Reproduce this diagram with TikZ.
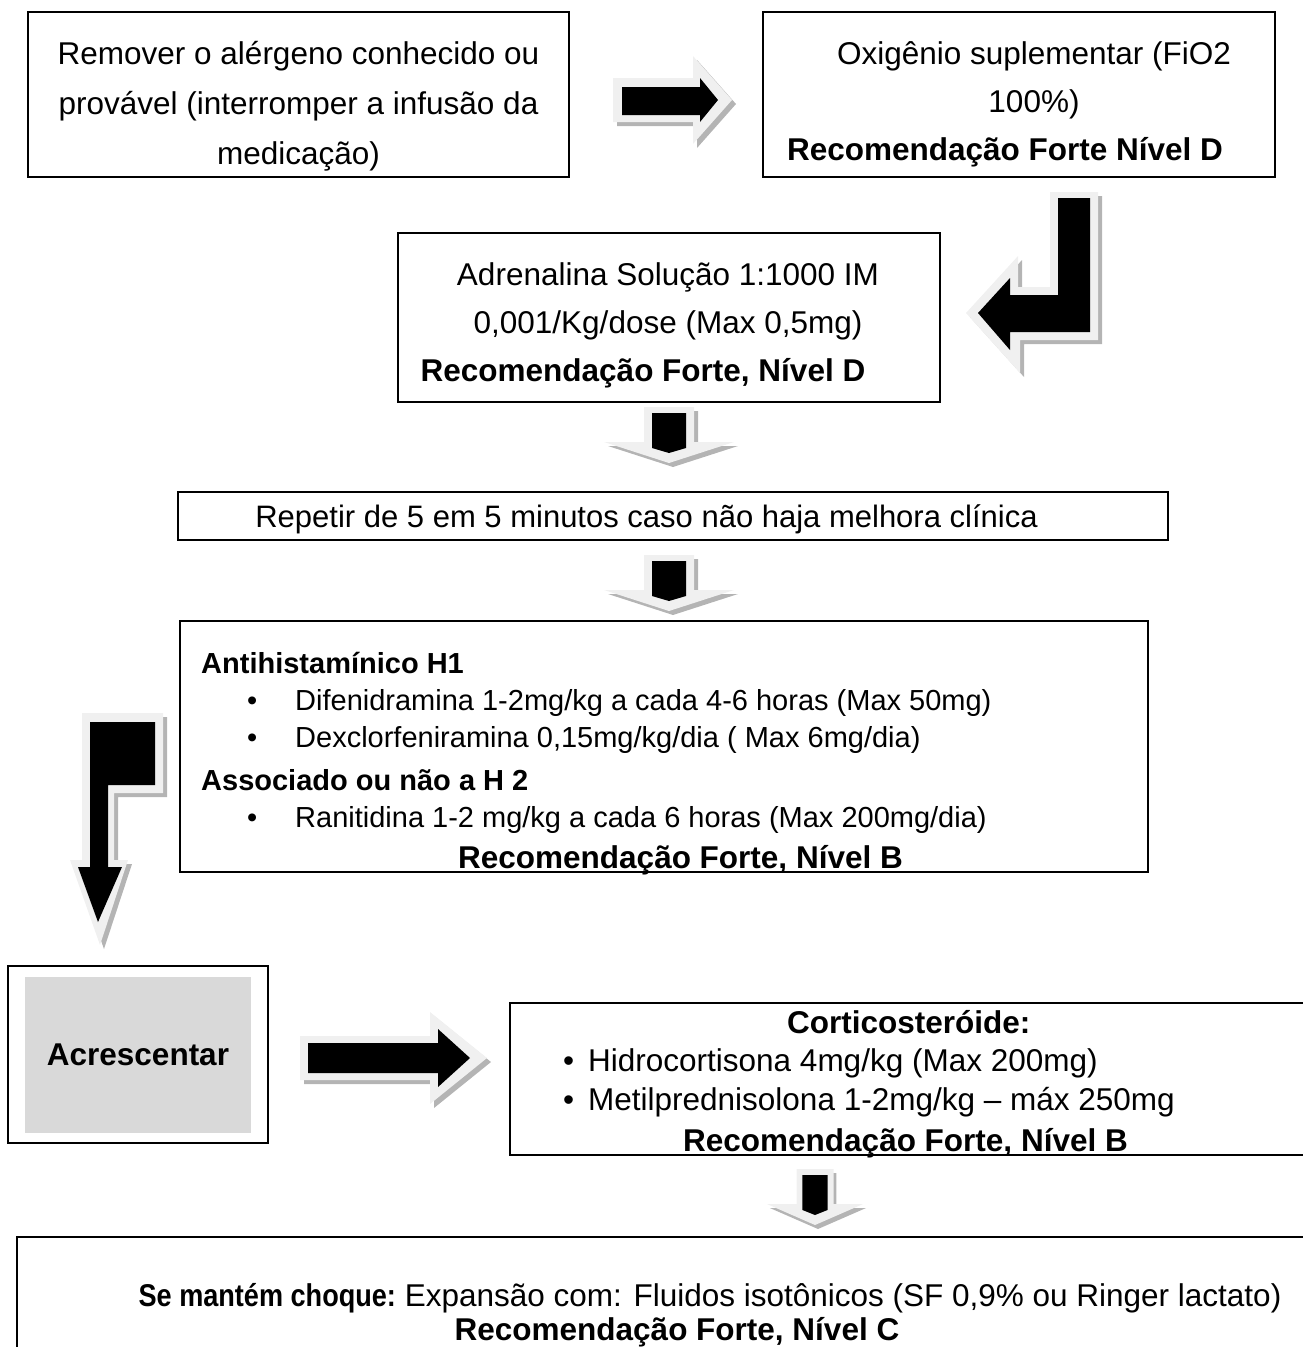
\documentclass[tikz,border=0pt]{standalone}
\usepackage{fontspec}
\setmainfont{Liberation Sans}
\usetikzlibrary{positioning}
\definecolor{rimgray}{HTML}{F0F0F0}
\definecolor{shadowgray}{HTML}{B4B4B4}
\definecolor{fillgray}{HTML}{D9D9D9}
\newcommand\bigtxt{\fontsize{31.5}{48}\selectfont}
\newcommand\midtxt{\fontsize{29}{37}\selectfont}
\newcommand\topstrut{\rule{0pt}{26pt}}
% block arrow: shadow, light rim, black core
\newcommand\blockarrow[2]{%
  \fill[arrowshadow,shift={(4,4)}] #1;
  \fill[arrowrim] #1;
  \fill[arrowbody] #2;}
\tikzset{
  box/.style={draw,line width=2pt,inner sep=0pt},
  txt/.style={inner sep=0pt,anchor=north,align=center,font=\bigtxt},
  arrowrim/.style={fill=rimgray},
  arrowshadow/.style={fill=shadowgray},
  arrowbody/.style={fill=black},
  downblock/.pic={
    \blockarrow{(-25,-56)--(25,-56)--(25,-21)--(65,-21)--(0,0)--(-65,-21)--(-25,-21)--cycle}
               {(-17,-50)--(17,-50)--(17,-15)--(0,-10)--(-17,-15)--cycle}
  }
}

\begin{document}
\begin{tikzpicture}[x=1pt,y=-1pt]
\useasboundingbox (0,0) rectangle (1303,1347);
\clip (0,0) rectangle (1303,1347);

% first row
\node[box,minimum width=541,minimum height=165] (remover) at (298.5,94.5) {};
\node[txt,font=\fontsize{31.5}{50}\selectfont] (removertxt) at (298.5,38) {\topstrut Remover o alérgeno conhecido ou\\provável (interromper a infusão da\\medicação)};
\node[box,minimum width=512,minimum height=165] (oxigenio) at (1019,94.5) {};
\node[txt] (oxigeniotxt) at (1034,38) {\topstrut Oxigênio suplementar (FiO2\\100\%)\\\textbf{Recomendação Forte Nível D}\hspace*{58pt}};

\blockarrow{(613,78)--(693,78)--(693,56)--(732,100)--(693,144)--(693,122)--(613,122)--cycle}
           {(622,87)--(700,87)--(700,78)--(718,100)--(700,122)--(700,115)--(622,115)--cycle}
\blockarrow{(1050,192)--(1098,192)--(1098,340)--(1020,340)--(1020,373)--(966,313)--(1018,256)--(1018,287)--(1050,287)--cycle}
           {(1058,198)--(1090,198)--(1090,332)--(1010,332)--(1010,350)--(978,313)--(1010,278)--(1010,295)--(1058,295)--cycle}

% adrenalina
\node[box,minimum width=542,minimum height=169] (adrenalina) at (669,317.5) {};
\node[txt] (adrenalinatxt) at (668,259) {\topstrut Adrenalina Solução 1:1000 IM\\0,001/Kg/dose (Max 0,5mg)\hspace*{36pt}\\\textbf{Recomendação Forte, Nível D}\hspace*{50pt}};
\pic at (669,463) {downblock};

\node[box,minimum width=990,minimum height=48] (repetir) at (673,516) {};
\node[txt,font=\fontsize{31}{48}\selectfont] (repetirtxt) at (646.5,501) {\topstrut Repetir de 5 em 5 minutos caso não haja melhora clínica};
\pic at (669,611) {downblock};

% antihistaminicos
\node[box,minimum width=968,minimum height=251] (antihist) at (664,746.5) {};
\node[txt,anchor=north west,align=left,font=\midtxt] (antihisttxt) at (201,647) {\topstrut\textbf{Antihistamínico H1}\\
\hspace*{46pt}\makebox[48pt][l]{•}Difenidramina 1-2mg/kg a cada 4-6 horas (Max 50mg)\\
\hspace*{46pt}\makebox[48pt][l]{•}Dexclorfeniramina 0,15mg/kg/dia ( Max 6mg/dia)\\[6pt]
\textbf{Associado ou não a H 2}\\
\hspace*{46pt}\makebox[48pt][l]{•}Ranitidina 1-2 mg/kg a cada 6 horas (Max 200mg/dia)\\[4pt]
\hspace*{257pt}{\bigtxt\bfseries Recomendação Forte, Nível B}};

\blockarrow{(82,713)--(163,713)--(163,793)--(114,793)--(114,860)--(128,860)--(100,945)--(70,860)--(82,860)--cycle}
           {(90,722)--(155,722)--(155,785)--(108,785)--(108,867)--(122,867)--(98,922)--(78,867)--(90,867)--cycle}

% acrescentar
\node[box,minimum width=260,minimum height=177] (acrescentar) at (138,1054.5) {};
\node[fill=fillgray,minimum width=226,minimum height=156,inner sep=0pt,font=\bigtxt\bfseries] (acrescentartxt) at (138,1055) {Acrescentar};
\blockarrow{(300,1036)--(430,1036)--(430,1012)--(487,1058)--(430,1104)--(430,1080)--(300,1080)--cycle}
           {(308,1043)--(438,1043)--(438,1029)--(470,1058)--(438,1087)--(438,1073)--(308,1073)--cycle}

\node[box,minimum width=796,minimum height=152] (cortico) at (908,1079) {};
\node[txt,anchor=north west,align=left,font=\fontsize{31.5}{38.5}\selectfont] (corticotxt) at (563,1007) {\topstrut\hspace*{224pt}\textbf{Corticosteróide:}\\
\makebox[25pt][l]{•}Hidrocortisona 4mg/kg (Max 200mg)\\
\makebox[25pt][l]{•}Metilprednisolona 1-2mg/kg – máx 250mg\\[3pt]
\hspace*{120pt}\textbf{Recomendação Forte, Nível B}};
\pic[xscale=.74] at (815,1225) {downblock};

% choque
\node[box,minimum width=1303,minimum height=143] (choque) at (668.5,1308.5) {};
\node[txt,font=\fontsize{31.5}{34}\selectfont] (choquetxt) at (710,1280) {\topstrut\scalebox{.86}[1]{\textbf{Se mantém choque:}} Expansão com: Fluidos isotônicos (SF 0,9\% ou Ringer lactato)\\\textbf{Recomendação Forte, Nível C}\hspace*{66pt}};
\end{tikzpicture}
\end{document}
